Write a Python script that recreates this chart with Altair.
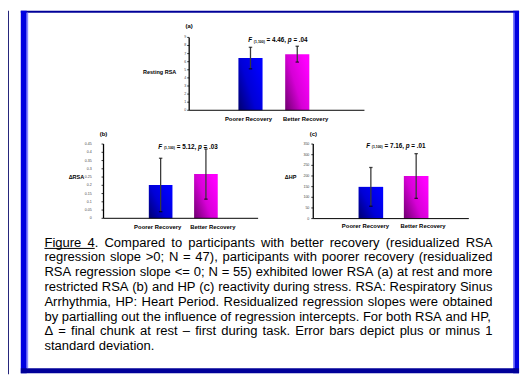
import altair as alt
import pandas as pd

# ---------------- data ----------------
groups = ["Poorer Recovery", "Better Recovery"]
rest_rsa_mean = [6.45, 6.93]
rest_rsa_sd = [1.33, 0.98]
delta_rsa_mean = [0.202, 0.268]
delta_rsa_sd = [0.162, 0.152]
delta_hp_mean = [149, 200]
delta_hp_sd = [91, 105]

ticks_a = [0, 1, 2, 3, 4, 5, 6, 7, 8, 9]
tick_labels_a = ["0", "1", "2", "3", "4", "5", "6", "7", "8", "9"]
ticks_b = [0, 0.05, 0.1, 0.15, 0.2, 0.25, 0.3, 0.35, 0.4, 0.45]
tick_labels_b = ["0", "0.05", "0.1", "0.15", "0.2", "0.25", "0.3", "0.35", "0.4", "0.45"]
ticks_c = [0, 50, 100, 150, 200, 250, 300, 350]
tick_labels_c = ["0", "50", "100", "150", "200", "250", "300", "350"]

panel_letters = ["(a)", "(b)", "(c)"]
y_titles = ["Resting RSA", "\u0394RSA", "\u0394HP"]
f_df = "(1,100)"
f_values = ["4.46", "5.12", "7.16"]
p_values = [".04", ".03", ".01"]

caption_lines = [
    "Figure 4. Compared to participants with better recovery (residualized RSA",
    "regression slope >0; N = 47), participants with poorer recovery (residualized",
    "RSA regression slope <= 0; N = 55) exhibited lower RSA (a) at rest and more",
    "restricted RSA (b) and HP (c) reactivity during stress. RSA: Respiratory Sinus",
    "Arrhythmia, HP: Heart Period. Residualized regression slopes were obtained",
    "by partialling out the influence of regression intercepts. For both RSA and HP,",
    "\u0394 = final chunk at rest \u2013 first during task. Error bars depict plus or minus 1",
    "standard deviation.",
]

FONT = "Liberation Sans"

# ---------------- font metrics (Arial-compatible) ----------------
AR = dict(zip(" ()-.,:;<=>", [278, 333, 333, 333, 278, 278, 278, 278, 584, 584, 584]))
AR.update({d: 556 for d in "0123456789"})
AR.update(dict(zip("ABCDEFGHIJKLMNOPQRSTUVWXYZ",
                   [667, 667, 722, 722, 667, 611, 778, 722, 278, 500, 667, 556, 833,
                    722, 778, 667, 778, 722, 667, 611, 722, 667, 944, 667, 667, 611])))
AR.update(dict(zip("abcdefghijklmnopqrstuvwxyz",
                   [556, 556, 500, 556, 556, 278, 556, 556, 222, 222, 500, 222, 833,
                    556, 556, 556, 556, 333, 500, 278, 556, 500, 722, 500, 500, 500])))
AR["\u2013"] = 556
AR["\u0394"] = 668
ARB = {" ": 278, "(": 333, ")": 333, ",": 278, ".": 278, "=": 584, "F": 611, "p": 611}
ARB.update({d: 556 for d in "0123456789"})


def units(s, table):
    return sum(table.get(c, 556) for c in s)


def grad(dark, mid, light):
    return alt.Gradient(
        gradient="linear", x1=0, y1=1, x2=1, y2=0.3,
        stops=[alt.GradientStop(color=dark, offset=0),
               alt.GradientStop(color=mid, offset=0.5),
               alt.GradientStop(color=light, offset=1)])


bar_fills = [grad("#00006e", "#0000d6", "#0000ff"), grad("#6e006e", "#d600d6", "#ff00ff")]


def text_chart(txt, x, y, size, **kw):
    props = dict(font=FONT, fontWeight="bold", fontSize=size, baseline="middle",
                 align="center", color="black")
    props.update(kw)
    return alt.Chart(pd.DataFrame({"t": [txt]})).mark_text(**props).encode(
        x=alt.value(x), y=alt.value(y), text="t:N")


def stats_layers(idx, x0, y, fs):
    sub = fs * 0.55
    pieces = [("F", fs, "italic", 0), (" ", fs, "normal", 0), (f_df, sub, "normal", 1.6),
              (" = " + f_values[idx] + ", ", fs, "normal", 0), ("p", fs, "italic", 0),
              (" = " + p_values[idx], fs, "normal", 0)]
    out = []
    x = x0
    for s, size, style, dy in pieces:
        core = s.strip()
        if core:
            lead = (len(s) - len(s.lstrip(" "))) * ARB[" "] * size / 1000
            out.append(text_chart(core, x + lead, y + dy, size, align="left", fontStyle=style))
        x += units(s, ARB) * size / 1000
    return out


def panel(idx, mean, sd, ticks, tick_labels, dom, yr, xr, pad_in, xaxis, label_gap,
          letter_xy, ytitle_xy, stats_xy, label_y, label_dx):
    df = pd.DataFrame({"group": groups, "mean": mean, "sd": sd})
    df["lo"] = df["mean"] - df["sd"]
    df["hi"] = df["mean"] + df["sd"]
    xs = alt.Scale(domain=groups, range=xr, paddingInner=pad_in, paddingOuter=0)
    ys = alt.Scale(domain=dom, range=yr, nice=False, zero=True)
    X = alt.X("group:N", scale=xs, axis=None, sort=groups)
    base = alt.Chart(df)
    layers = []
    for g, fill in zip(groups, bar_fills):
        layers.append(base.transform_filter(alt.datum.group == g).mark_bar(fill=fill).encode(
            x=X, y=alt.Y("mean:Q", scale=ys, axis=None)))
    layers.append(base.mark_rule(color="#3a3a3a", strokeWidth=1.3).encode(
        x=X, y=alt.Y("lo:Q", scale=ys, axis=None), y2="hi:Q"))
    for f in ["lo", "hi"]:
        layers.append(base.mark_tick(color="black", size=3.5, thickness=1.3,
                                     orient="horizontal").encode(
            x=X, y=alt.Y(f + ":Q", scale=ys, axis=None)))
    # axes
    tdf = pd.DataFrame({"v": ticks, "label": tick_labels})
    adf = pd.DataFrame({"v0": [dom[0]], "v1": [dom[1]]})
    ax = alt.Chart(adf)
    layers.append(ax.mark_rule(color="black", strokeWidth=1.3).encode(
        x=alt.value(xaxis[0]), y=alt.Y("v0:Q", scale=ys, axis=None), y2="v1:Q"))
    layers.append(ax.mark_rule(color="black", strokeWidth=1).encode(
        x=alt.value(xaxis[0]), x2=alt.value(xaxis[1]), y=alt.Y("v0:Q", scale=ys, axis=None)))
    tc = alt.Chart(tdf)
    layers.append(tc.mark_rule(color="black", strokeWidth=0.8).encode(
        x=alt.value(xaxis[0] - 2), x2=alt.value(xaxis[0]), y=alt.Y("v:Q", scale=ys, axis=None)))
    layers.append(tc.mark_text(font=FONT, fontSize=3.6, align="right", baseline="middle",
                               color="#444444").encode(
        x=alt.value(xaxis[0] - label_gap), y=alt.Y("v:Q", scale=ys, axis=None), text="label:N"))
    # category labels
    for g, dx in zip(groups, label_dx):
        layers.append(base.transform_filter(alt.datum.group == g).mark_text(
            font=FONT, fontWeight="bold", fontSize=6, baseline="middle", dx=dx,
            color="black").encode(x=X, y=alt.value(label_y), text="group:N"))
    layers.append(text_chart(panel_letters[idx], letter_xy[0], letter_xy[1], 6))
    layers.append(text_chart(y_titles[idx], ytitle_xy[0], ytitle_xy[1], 5.6))
    layers += stats_layers(idx, stats_xy[0], stats_xy[1], 6.4)
    return alt.layer(*layers)


pa = panel(0, rest_rsa_mean, rest_rsa_sd, ticks_a, tick_labels_a, [0, 9], [101, 27],
           [234, 306], 0.484, [184, 362], 3, (184, 15), (154, 62), (244, 30), 110, [-2, 8.5])
pb = panel(1, delta_rsa_mean, delta_rsa_sd, ticks_b, tick_labels_b, [0, 0.45], [210.7, 135.3],
           [143, 213], 0.478, [97, 254], 12, (97, 124.7), (69.5, 168.7), (152.7, 138), 219.3, [-3, 7])
pc = panel(2, delta_hp_mean, delta_hp_sd, ticks_c, tick_labels_c, [0, 350], [211, 135.3],
           [356, 427], 0.457, [310, 468], 4, (310, 125), (287, 169), (363.7, 137), 219, [-5.5, 7])

# ---------------- caption (justified) ----------------
CAP_X0, CAP_W, CAP_B0, CAP_LH = 37, 455, 239.5, 15
line_units = []
for ln in caption_lines[:-1]:
    line_units.append(units(ln, AR))
cap_fs = min(14.0, CAP_W * 1000 / max(line_units))
rows = []
underline_end = None
for i, ln in enumerate(caption_lines):
    words = ln.split(" ")
    ww = [units(w, AR) * cap_fs / 1000 for w in words]
    if i < len(caption_lines) - 1 and len(words) > 1:
        gap = (CAP_W - sum(ww)) / (len(words) - 1)
    else:
        gap = AR[" "] * cap_fs / 1000
    x = 0.0
    for j, (w, wd) in enumerate(zip(words, ww)):
        rows.append({"word": w, "xpos": x, "line": i})
        if i == 0 and j == 1:
            underline_end = x + units(w.rstrip("."), AR) * cap_fs / 1000
        x += wd + gap
cap_df = pd.DataFrame(rows)
n_lines = len(caption_lines)
caption = alt.Chart(cap_df).mark_text(font=FONT, fontSize=cap_fs, align="left",
                                      baseline="alphabetic", color="black").encode(
    x=alt.X("xpos:Q", scale=alt.Scale(domain=[0, CAP_W], range=[CAP_X0, CAP_X0 + CAP_W],
                                      nice=False, zero=False), axis=None),
    y=alt.Y("line:Q", scale=alt.Scale(domain=[0, n_lines - 1],
                                      range=[CAP_B0, CAP_B0 + CAP_LH * (n_lines - 1)],
                                      nice=False, zero=False), axis=None),
    text="word:N")
underline = alt.Chart(pd.DataFrame({"a": [0]})).mark_rule(color="black", strokeWidth=1).encode(
    x=alt.value(CAP_X0), x2=alt.value(CAP_X0 + underline_end),
    y=alt.value(CAP_B0 + 1.8))


# ---------------- frame ----------------
def box(x0, x1, y0, y1, color):
    return alt.Chart(pd.DataFrame({"a": [0]})).mark_rect(color=color).encode(
        x=alt.value(x0), x2=alt.value(x1), y=alt.value(y0), y2=alt.value(y1))


H = 369
frame = [
    box(0, 1, 0, H, "#23237a"),
    box(13, 519, 0, 2, "#000099"),
    box(13, 19, 0, H - 1, "#0000e0"),
    box(19, 20.5, 2, H - 6, "#8c8cff"),
    box(513, 519, 0, H - 1, "#0000e0"),
    box(513, 514.5, 2, H - 6, "#8c8cff"),
    box(13, 519, H - 6, H - 1, "#000099"),
]

chart = alt.layer(pa, pb, pc, caption, underline, *frame).resolve_scale(
    x="independent", y="independent"
).properties(
    width=523, height=H, padding=0, autosize=alt.AutoSizeParams(type="none"),
    background="white"
).configure_view(stroke=None)

chart.save("out.html", embed_options={"renderer": "svg", "actions": False})
